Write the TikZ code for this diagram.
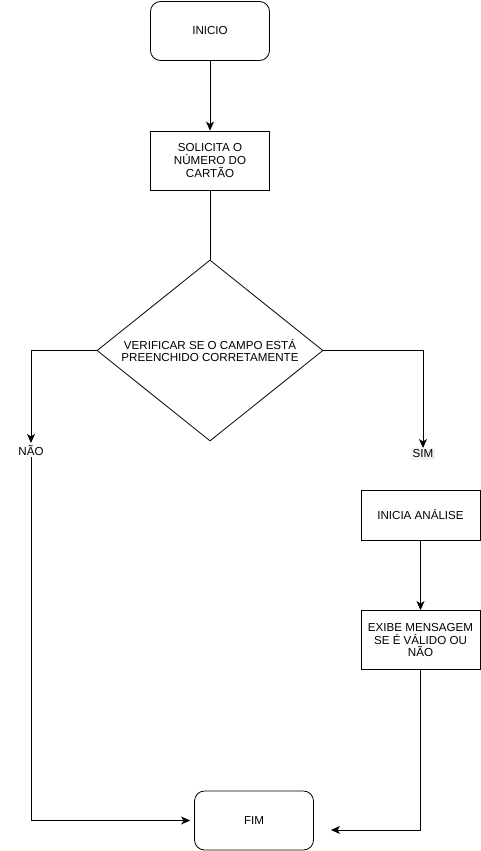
\documentclass[tikz,border=0pt]{standalone}
\usepackage{fontspec}
\setmainfont{Liberation Sans}
\usetikzlibrary{shapes.geometric, arrows.meta}
\begin{document}
\begin{tikzpicture}[x=1pt, y=-1pt, >={Stealth[length=9pt,width=8pt,inset=2.5pt]}, line width=0.8pt,
	font=\fontsize{11.6}{12.6}\selectfont,
	caixa/.style={draw, rectangle, minimum width=119pt, minimum height=59pt, align=center, inner sep=2pt},
	terminal/.style={caixa, rounded corners=10pt},
	decisao/.style={draw, diamond, shape aspect=1.25, minimum width=226pt, minimum height=181pt, align=center, inner sep=0pt},
	rotulo/.style={inner sep=1.5pt}]
	\useasboundingbox (0,0) rectangle (481,851);
	
	% coluna principal
	\node[terminal] (inicio) at (210,31) {INICIO};
	\node[caixa] (solicita) at (210,160.5) {SOLICITA O\\NÚMERO DO\\CARTÃO};
	\node[decisao] (verif) at (210,350.5) {VERIFICAR SE O CAMPO ESTÁ\\PREENCHIDO CORRETAMENTE};
	\node[terminal] (fim) at (254,820.5) {FIM};
	
	% respostas
	\node[rotulo] (nao) at (31,450) {NÃO};
	\node[rotulo, fill=black!5] (sim) at (423,454) {SIM};
	
	% ramo do sim
	\node[caixa, minimum height=50pt] (inicia) at (420.5,515) {INICIA ANÁLISE};
	\node[caixa] (exibe) at (420.5,640) {EXIBE MENSAGEM\\SE É VÁLIDO OU\\NÃO};
	\coordinate (fimdir) at (331,830);
	
	\draw[->] (inicio) -- (solicita);
	\draw (solicita) -- (verif);
	\draw[->] (verif.west) -| (nao);
	\draw[->, shorten >=4pt] (nao) |- (fim.west);
	\draw[->] (verif.east) -| (sim);
	\draw[->] (inicia) -- (exibe);
	\draw[->] (exibe) |- (fimdir);
\end{tikzpicture}
\end{document}
